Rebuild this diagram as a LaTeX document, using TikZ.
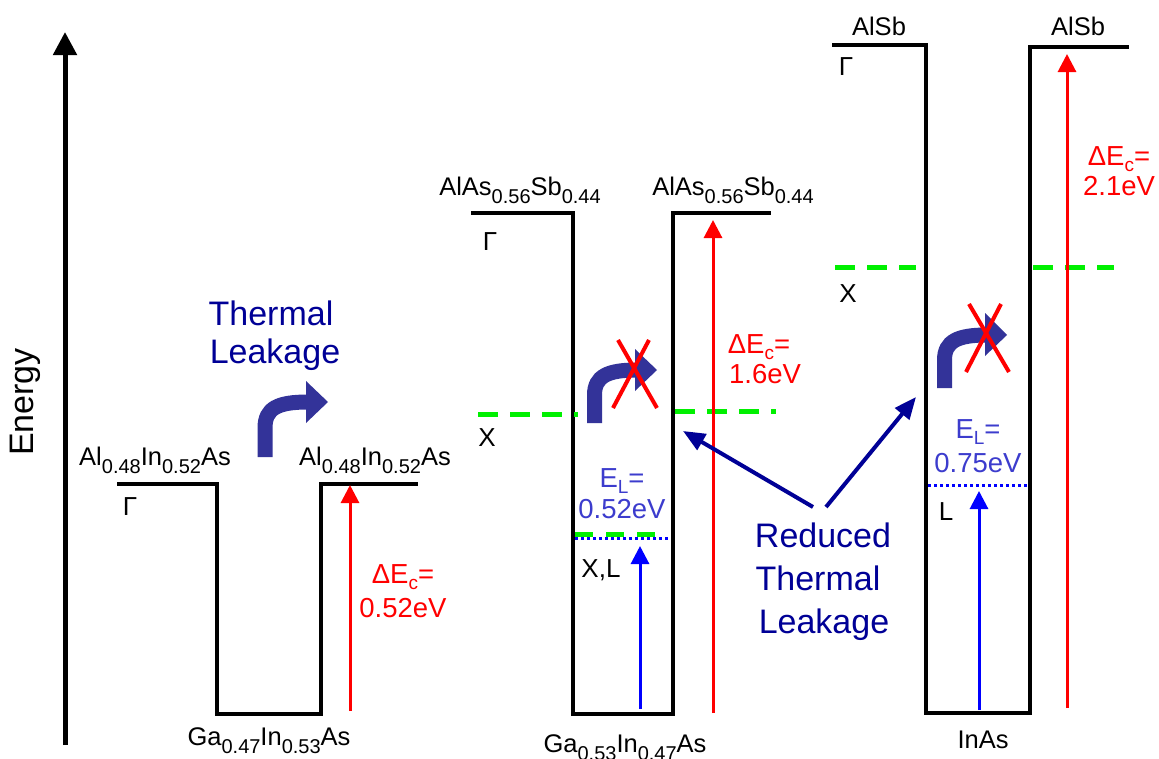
\documentclass[tikz,border=0pt]{standalone}
\usepackage{fontspec}
\setmainfont{Liberation Sans}
\usetikzlibrary{arrows.meta}
\definecolor{navy}{RGB}{0,0,150}
\definecolor{hopblue}{RGB}{51,51,153}
\definecolor{elblue}{RGB}{60,60,205}
\definecolor{lgreen}{RGB}{0,240,0}
\newcommand{\sbs}[1]{\raisebox{-8pt}{\fontsize{20}{20}\selectfont #1}}
\newcommand{\csb}[1]{\raisebox{-6pt}{\fontsize{19}{19}\selectfont #1}}
\begin{document}
\begin{tikzpicture}[x=1pt,y=-1pt,
  band/.style={line width=4pt, line join=miter},
  mat/.style={font=\fontsize{25.5}{26}\selectfont, anchor=base, inner sep=0pt},
  sym/.style={font=\fontsize{26}{26}\selectfont, anchor=base, inner sep=0pt},
  redlab/.style={font=\fontsize{27.5}{28}\selectfont, anchor=base, inner sep=0pt, text=red},
  ellab/.style={font=\fontsize{27.5}{28}\selectfont, anchor=base, inner sep=0pt, text=elblue},
  big/.style={font=\fontsize{34}{34}\selectfont, anchor=base, inner sep=0pt, text=navy},
  xdash/.style={lgreen, line width=5pt, dash pattern=on 20pt off 12pt},
  ldot/.style={blue, line width=3pt, dash pattern=on 3pt off 3pt},
  redarr/.style={red, line width=3pt, -{Triangle[length=18pt,width=18pt]}},
  bluearr/.style={blue, line width=3pt, -{Triangle[length=18pt,width=18pt]}},
  navyarr/.style={navy, line width=4pt, -{Triangle[length=22pt,width=18pt]}},
  hop/.style={hopblue, line width=15pt},
  cross/.style={red, line width=4pt},
]
\useasboundingbox (0,0) rectangle (1159,758);

% energy axis
\coordinate (e0) at (65,745);
\coordinate (e1) at (65,32);
\draw[line width=5pt, -{Triangle[length=23pt,width=23pt]}] (e0) -- (e1);
\node[rotate=90, font=\fontsize{34}{34}\selectfont, inner sep=0pt] (en) at (25,402) {Energy};

% ---------- left well ----------
\draw[band] (117,484) -- (217,484) -- (217,714) -- (321,714) -- (321,484) -- (418,484);
\node[mat] (alinL) at (155,465) {Al\sbs{0.48}In\sbs{0.52}As};
\node[mat] (alinR) at (375,465) {Al\sbs{0.48}In\sbs{0.52}As};
\node[sym] (gL) at (130,515) {Γ};
\node[mat] (gaL) at (269,745) {Ga\sbs{0.47}In\sbs{0.53}As};
\coordinate (rL0) at (350,711);
\coordinate (rL1) at (350,485);
\draw[redarr] (rL0) -- (rL1);
\node[redlab] (dL1) at (403,583) {ΔE\csb{c}=};
\node[redlab] (dL2) at (403,617) {0.52eV};
\node[big] (th1) at (271,325) {Thermal};
\node[big] (th2) at (275,363) {Leakage};
\draw[hop] (265,457) -- (265,428) .. controls (265,408) and (278,402) .. (308,402);
\fill[hopblue] (306,381) -- (328,402) -- (306,423) -- cycle;

% ---------- middle well ----------
\draw[band] (471,213) -- (573,213) -- (573,714) -- (673,714) -- (673,213) -- (771,213);
\node[mat] (asL) at (520,195) {AlAs\sbs{0.56}Sb\sbs{0.44}};
\node[mat] (asR) at (733,195) {AlAs\sbs{0.56}Sb\sbs{0.44}};
\node[sym] (gM) at (490,250) {Γ};
\draw[xdash] (478,414) -- (578,414);
\draw[xdash] (675,411) -- (776,411);
\node[sym] (xM) at (487,446) {X};
\draw[xdash, dash pattern=on 18pt off 13pt] (575,534) -- (657,534);
\draw[ldot] (575,538) -- (670,538);
\node[sym] (xlM) at (601,577) {X,L};
\node[ellab] (elM1) at (622,487) {E\csb{L}=};
\node[ellab] (elM2) at (622,518) {0.52eV};
\coordinate (bM0) at (640,709);
\coordinate (bM1) at (640,546);
\draw[bluearr] (bM0) -- (bM1);
\coordinate (rM0) at (713,713);
\coordinate (rM1) at (713,220);
\draw[redarr] (rM0) -- (rM1);
\node[redlab] (dM1) at (759,353) {ΔE\csb{c}=};
\node[redlab] (dM2) at (765,383) {1.6eV};
\node[mat] (gaM) at (625,752) {Ga\sbs{0.53}In\sbs{0.47}As};
\draw[hop] (594.5,423) -- (594.5,395) .. controls (594.5,376) and (608,370) .. (637,370);
\fill[hopblue] (635,349) -- (657,370) -- (635,391) -- cycle;
\draw[cross] (613,408) -- (649,340);
\draw[cross] (618,340) -- (657,408);

% reduced thermal leakage
\node[big] (rd1) at (823,547) {Reduced};
\node[big] (rd2) at (818,590) {Thermal};
\node[big] (rd3) at (824,633) {Leakage};
\coordinate (rdA) at (813,507);
\coordinate (rdAt) at (683,431);
\coordinate (rdB) at (826,507);
\coordinate (rdBt) at (916,397);
\draw[navyarr] (rdA) -- (rdAt);
\draw[navyarr] (rdB) -- (rdBt);

% ---------- right well ----------
\draw[band] (832,45) -- (926,45) -- (926,713) -- (1030,713) -- (1030,47) -- (1129,47);
\node[mat] (sbL) at (879,35) {AlSb};
\node[mat] (sbR) at (1078,35) {AlSb};
\node[sym] (gR) at (846,75) {Γ};
\draw[xdash] (835,267) -- (916,267);
\draw[xdash] (1033,267) -- (1114,267);
\node[sym] (xR) at (848,302) {X};
\draw[ldot] (928,485) -- (1028,485);
\node[sym] (lR) at (946,520) {L};
\node[ellab] (elR1) at (978,438) {E\csb{L}=};
\node[ellab] (elR2) at (978,472) {0.75eV};
\coordinate (bR0) at (979,710);
\coordinate (bR1) at (979,491);
\draw[bluearr] (bR0) -- (bR1);
\coordinate (rR0) at (1067,708);
\coordinate (rR1) at (1067,54);
\draw[redarr] (rR0) -- (rR1);
\node[redlab] (dR1) at (1119,165) {ΔE\csb{c}=};
\node[redlab] (dR2) at (1119,195) {2.1eV};
\node[mat] (inas) at (983,748) {InAs};
\draw[hop] (944.5,388) -- (944.5,360) .. controls (944.5,341) and (958,335) .. (987,335);
\fill[hopblue] (985,313) -- (1007,335) -- (985,356) -- cycle;
\draw[cross] (966,372) -- (1001,304);
\draw[cross] (969,304) -- (1009,372);
\end{tikzpicture}
\end{document}
